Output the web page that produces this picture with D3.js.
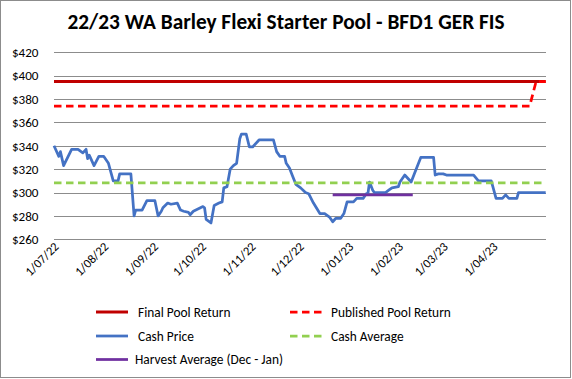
<!DOCTYPE html>
<html>
<head>
<meta charset="utf-8">
<script src="https://cdn.jsdelivr.net/npm/d3@7"></script>
<style>
  html, body { margin: 0; padding: 0; background: #fff; }
  svg { display: block; }
  text { font-family: Carlito, Lato, "Open Sans", sans-serif; fill: #000; }
</style>
</head>
<body>
<svg id="chart" width="572" height="379"></svg>
<script>
// ---------------- DATA ----------------
const chartTitle = "22/23 WA Barley Flexi Starter Pool - BFD1 GER FIS";

const cashDates = [
  "2022-07-01","2022-07-04","2022-07-05","2022-07-07","2022-07-12","2022-07-16","2022-07-19","2022-07-21",
  "2022-07-22","2022-07-23","2022-07-26","2022-07-29","2022-08-01","2022-08-04","2022-08-07","2022-08-10",
  "2022-08-11","2022-08-18","2022-08-20","2022-08-21","2022-08-25","2022-08-28","2022-09-02","2022-09-04",
  "2022-09-06","2022-09-07","2022-09-10","2022-09-12","2022-09-16","2022-09-18","2022-09-20","2022-09-23",
  "2022-09-24","2022-09-26","2022-10-02","2022-10-03","2022-10-04","2022-10-07","2022-10-09","2022-10-12",
  "2022-10-14","2022-10-15","2022-10-17","2022-10-19","2022-10-21","2022-10-23","2022-10-25","2022-10-26",
  "2022-10-29","2022-10-31","2022-11-02","2022-11-06","2022-11-15","2022-11-17","2022-11-19","2022-11-22",
  "2022-11-23","2022-11-25","2022-11-27","2022-11-29","2022-12-02","2022-12-05","2022-12-07","2022-12-10",
  "2022-12-14","2022-12-17","2022-12-20","2022-12-22","2022-12-24","2022-12-27","2022-12-29","2022-12-31",
  "2023-01-04","2023-01-06","2023-01-10","2023-01-12","2023-01-13","2023-01-14","2023-01-16","2023-01-17",
  "2023-01-24","2023-01-26","2023-01-28","2023-02-01","2023-02-02","2023-02-05","2023-02-07","2023-02-09",
  "2023-02-11","2023-02-15","2023-02-23","2023-02-24","2023-02-26","2023-03-01","2023-03-03","2023-03-20",
  "2023-03-23","2023-03-31","2023-04-01","2023-04-03","2023-04-07","2023-04-09","2023-04-11","2023-04-16",
  "2023-04-17","2023-05-04"
];
const cashPrices = [
  340,331,335,323,337,337,334,337,
  329,332,323,331,331,325,310,310,
  316,316,280,285,285,293,293,280,
  284,287,291,290,291,285,284,283,
  281,284,288,287,277,274,289,291,
  292,304,305,320,323,325,346,350,
  350,339,339,345,345,335,331,331,
  325,321,314,307,304,300,299,291,
  282,282,279,275,278,278,282,292,
  292,295,295,299,299,309,302,300,
  300,302,304,305,309,315,312,309,
  316,330,330,315,316,316,315,315,
  310,310,305,295,295,298,295,295,
  300,300
];

const finalPoolDates  = ["2022-07-01", "2023-05-04"];
const finalPoolValues = [395, 395];

const publishedDates  = ["2022-07-01", "2023-04-24", "2023-04-28", "2023-05-04"];
const publishedValues = [374, 374, 395, 395];

const cashAverageDates  = ["2022-07-01", "2023-05-04"];
const cashAverageValues = [308.3, 308.3];

const harvestDates  = ["2022-12-22", "2023-02-10"];
const harvestValues = [298, 298];

const yTickValues = [260, 280, 300, 320, 340, 360, 380, 400, 420];
const xTickDates = ["2022-07-01","2022-08-01","2022-09-01","2022-10-01","2022-11-01","2022-12-01",
                    "2023-01-01","2023-02-01","2023-03-01","2023-04-01"];

const legendLabels = ["Final Pool Return", "Published Pool Return", "Cash Price", "Cash Average", "Harvest Average (Dec - Jan)"];

// ---------------- DRAW ----------------
const parse = d3.timeParse("%Y-%m-%d");
const svg = d3.select("#chart");

// border
svg.append("rect").attr("x", 0.5).attr("y", 0.5).attr("width", 570).attr("height", 377)
  .attr("fill", "#fff").attr("stroke", "#8c8c8c").attr("stroke-width", 1);

const plot = { left: 54, right: 545.7, top: 52.3, bottom: 239.3 };

const x = d3.scaleTime()
  .domain([parse(cashDates[0]), parse(cashDates[cashDates.length - 1])])
  .range([plot.left, plot.right]);
const y = d3.scaleLinear().domain([260, 420]).range([plot.bottom, plot.top]);

// title
const title = svg.append("text").attr("x", 286).attr("y", 28.5)
  .attr("text-anchor", "middle").attr("font-weight", "bold").attr("font-size", 18).text(chartTitle);
(function fit() {
  const w = title.node().getComputedTextLength();
  title.attr("font-size", 18 * 437 / w);
})();

// gridlines
const grid = svg.append("g").attr("transform", `translate(${plot.left},0)`)
  .call(d3.axisLeft(y).tickValues(yTickValues).tickSize(-(plot.right - plot.left)).tickFormat(""));
grid.select(".domain").remove();
grid.selectAll("line").attr("stroke", "#8c8c8c").attr("stroke-width", 1).attr("shape-rendering", "crispEdges");

// y axis labels
const yAxis = svg.append("g").attr("transform", `translate(38.5,0)`)
  .call(d3.axisLeft(y).tickValues(yTickValues).tickSize(0).tickPadding(0).tickFormat(d => "$" + d));
yAxis.select(".domain").remove();
yAxis.selectAll("text").attr("font-size", 13).attr("font-family", "Carlito, Lato, 'Open Sans', sans-serif");
(function fitY() {
  const t = yAxis.select("text").node();
  const w = t.getComputedTextLength();
  yAxis.selectAll("text").attr("font-size", 13 * 26.6 / w);
})();

// x axis labels
const fmt = d3.timeFormat("%-d/%m/%y");
const xAxis = svg.append("g").attr("transform", `translate(0,${plot.bottom})`)
  .call(d3.axisBottom(x).tickValues(xTickDates.map(parse)).tickSize(0).tickFormat(fmt));
xAxis.select(".domain").remove();
xAxis.selectAll("text")
  .attr("font-size", 12.5)
  .attr("font-family", "Carlito, Lato, 'Open Sans', sans-serif")
  .attr("text-anchor", "end")
  .attr("dy", "0.35em")
  .attr("transform", "translate(2,5) rotate(-45)")
  .attr("y", 0).attr("x", 0);

// lines
const lineGen = d3.line().x(d => x(d[0])).y(d => y(d[1]));
function series(dates, vals) { return dates.map((d, i) => [parse(d), vals[i]]); }

const styles = [
  { data: series(finalPoolDates, finalPoolValues), color: "#C00000", width: 3, dash: null },
  { data: series(publishedDates, publishedValues), color: "#FF0000", width: 2.75, dash: "7.5,4.5" },
  { data: series(cashDates, cashPrices), color: "#4472C4", width: 2.75, dash: null },
  { data: series(cashAverageDates, cashAverageValues), color: "#92D050", width: 2.75, dash: "7.5,4.5" },
  { data: series(harvestDates, harvestValues), color: "#7030A0", width: 2.75, dash: null }
];
styles.forEach(s => {
  svg.append("path").attr("d", lineGen(s.data))
    .attr("fill", "none").attr("stroke", s.color).attr("stroke-width", s.width)
    .attr("stroke-linejoin", "round")
    .attr("stroke-dasharray", s.dash);
});

// legend
const legendPos = [
  { lx: 96, tx: 138, y: 312 },
  { lx: 290, tx: 331, y: 312 },
  { lx: 96, tx: 138, y: 336 },
  { lx: 290, tx: 331, y: 336 },
  { lx: 96, tx: 135, y: 359.5 }
];
const leg = svg.append("g");
const legTexts = [];
legendLabels.forEach((lab, i) => {
  const p = legendPos[i], s = styles[i];
  leg.append("line").attr("x1", p.lx).attr("x2", p.lx + 32).attr("y1", p.y).attr("y2", p.y)
    .attr("stroke", s.color).attr("stroke-width", s.width).attr("stroke-dasharray", s.dash);
  legTexts.push(leg.append("text").attr("x", p.tx).attr("y", p.y).attr("dy", "0.35em")
    .attr("font-size", 13).text(lab));
});
(function fitLegend() {
  const w = legTexts[1].node().getComputedTextLength();
  const fs = 13 * 120 / w;
  legTexts.forEach(t => t.attr("font-size", fs));
})();
</script>
</body>
</html>
